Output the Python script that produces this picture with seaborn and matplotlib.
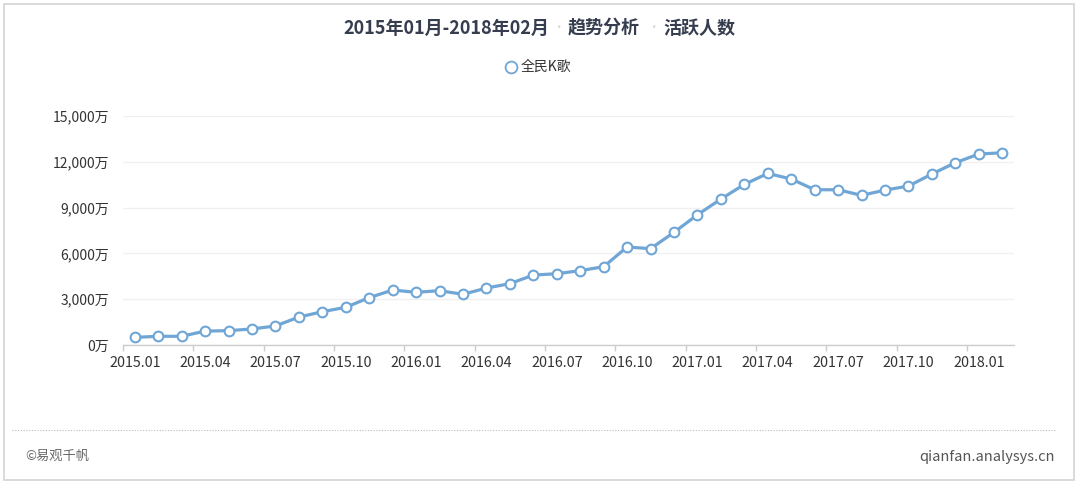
import matplotlib
matplotlib.use("Agg")
import matplotlib.pyplot as plt
from matplotlib.patches import Rectangle
from matplotlib.lines import Line2D
from matplotlib.ticker import FuncFormatter, FixedLocator
import seaborn as sns
import pandas as pd

# 数据: 全民K歌 月活跃人数 (万)
months = ["2015.01", "2015.02", "2015.03", "2015.04", "2015.05", "2015.06",
          "2015.07", "2015.08", "2015.09", "2015.10", "2015.11", "2015.12",
          "2016.01", "2016.02", "2016.03", "2016.04", "2016.05", "2016.06",
          "2016.07", "2016.08", "2016.09", "2016.10", "2016.11", "2016.12",
          "2017.01", "2017.02", "2017.03", "2017.04", "2017.05", "2017.06",
          "2017.07", "2017.08", "2017.09", "2017.10", "2017.11", "2017.12",
          "2018.01", "2018.02"]
active_users = [500, 570, 570, 910, 940, 1050, 1245, 1830, 2180, 2470, 3100, 3600,
                3450, 3560, 3320, 3730, 4020, 4580, 4670, 4870, 5130, 6420, 6310, 7380,
                8530, 9560, 10520, 11240, 10870, 10170, 10170, 9800, 10150, 10410, 11200, 11940,
                12510, 12590]
series_name = "全民K歌"
y_ticks = [0, 3000, 6000, 9000, 12000, 15000]

df = pd.DataFrame({"month": months, "value": active_users})
df["idx"] = range(len(df))

sns.set_theme(style="white")
plt.rcParams["font.family"] = ["Noto Sans CJK SC", "DejaVu Sans"]

line_color = "#6fa6d6"
text_color = "#333333"

fig = plt.figure(figsize=(10.8, 4.86), dpi=100)
ax = fig.add_axes([123 / 1080, 1 - 345 / 486, (1014 - 123) / 1080, (345 - 116) / 486])

sns.lineplot(data=df, x="idx", y="value", ax=ax, color=line_color, linewidth=2.3,
             marker="o", markersize=7, markerfacecolor="white",
             markeredgecolor=line_color, markeredgewidth=1.5, zorder=3)

ax.set_xlim(-0.5, len(months) - 0.5)
ax.set_ylim(0, 15000)
ax.set_xlabel("")
ax.set_ylabel("")

# y 轴
ax.yaxis.set_major_locator(FixedLocator(y_ticks))
ax.yaxis.set_major_formatter(FuncFormatter(lambda v, p: f"{int(v):,}万"))
ax.grid(axis="y", color="#f0f0f0", linewidth=1)
ax.tick_params(axis="y", length=0, labelsize=10, labelcolor=text_color, pad=10)

# x 轴: 每 3 个月一个标签, 刻度在类目边界
label_idx = list(range(0, len(months), 3))
ax.set_xticks(label_idx)
ax.set_xticklabels([months[i] for i in label_idx])
ax.set_xticks([i - 0.5 for i in label_idx], minor=True)
ax.tick_params(axis="x", which="major", length=0, labelsize=10.3, labelcolor=text_color, pad=8)
ax.tick_params(axis="x", which="minor", length=4, color="#cccccc", width=1, bottom=True)

for s in ["top", "right", "left"]:
    ax.spines[s].set_visible(False)
ax.spines["bottom"].set_color("#cccccc")
ax.spines["bottom"].set_linewidth(1)

# 标题
title_y = 1 - 28 / 486
title_color = "#363d4f"
fig.text(343 / 1080, title_y, "2015年01月-2018年02月", fontsize=13, color=title_color,
         weight="bold", ha="left", va="center")
fig.text(558 / 1080, title_y, "•", fontsize=9, color="#d8d8d8", ha="center", va="center")
fig.text(568 / 1080, title_y, "趋势分析", fontsize=13, color=title_color,
         weight="bold", ha="left", va="center")
fig.text(653 / 1080, title_y, "•", fontsize=9, color="#d8d8d8", ha="center", va="center")
fig.text(663 / 1080, title_y, "活跃人数", fontsize=13, color=title_color,
         weight="bold", ha="left", va="center")

# 图例
leg_y = 1 - 67 / 486
fig.add_artist(Line2D([511 / 1080], [leg_y], marker="o", markersize=8.5,
                      markerfacecolor="white", markeredgecolor=line_color,
                      markeredgewidth=1.3, transform=fig.transFigure))
fig.text(521 / 1080, leg_y, series_name, fontsize=10, color=text_color,
         ha="left", va="center")

# 页脚
fig.add_artist(Line2D([12 / 1080, 1055 / 1080], [1 - 430 / 486, 1 - 430 / 486],
                      color="#bbbbbb", linewidth=0.8, linestyle=(0, (1, 1.5)),
                      transform=fig.transFigure))
fig.text(25 / 1080, 1 - 456 / 486, "©易观千帆", fontsize=9.5, color="#666666",
         ha="left", va="center")
fig.text(1055 / 1080, 1 - 457 / 486, "qianfan.analysys.cn", fontsize=10.5, color="#555555",
         ha="right", va="center")

# 外框
fig.add_artist(Rectangle((4 / 1080, 1 - 480 / 486), (1074 - 4) / 1080, (480 - 4) / 486,
                         fill=False, edgecolor="#d4d4d4", linewidth=1.2,
                         transform=fig.transFigure))

fig.savefig("out.png", dpi=100)
